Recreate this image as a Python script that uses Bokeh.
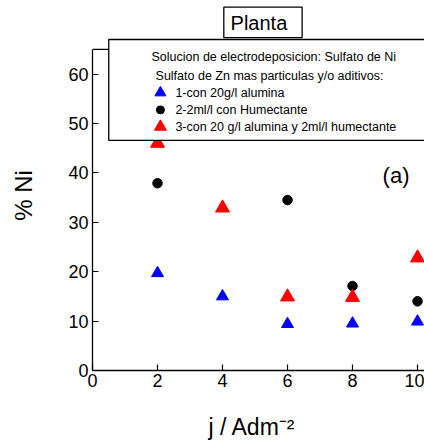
from bokeh.plotting import figure
from bokeh.models import Range1d, FixedTicker, Span
from bokeh.core.properties import value
from bokeh.embed import file_html
from bokeh.resources import INLINE

# ---- data ----
current_density = [2, 4, 6, 8, 10]
ni_alumina = [19.7, 15.0, 9.4, 9.5, 9.9]            # 1-con 20g/l alumina
wetting_density = [2, 6, 8, 10]
ni_wetting = [37.9, 34.5, 17.1, 14.0]               # 2-2ml/l con Humectante
ni_alumina_wetting = [46.0, 32.9, 14.9, 14.8, 22.8]  # 3-con 20 g/l alumina y 2ml/l humectante

x_ticks = [0, 2, 4, 6, 8, 10]
y_ticks = [0, 10, 20, 30, 40, 50, 60]

legend_header = ["Solucion de electrodeposicion: Sulfato de Ni",
                 "Sulfato de Zn mas particulas y/o aditivos:"]
legend_labels = ["1-con 20g/l alumina",
                 "2-2ml/l con Humectante",
                 "3-con 20 g/l alumina y 2ml/l humectante"]
title_text = "Planta"
panel_tag = "(a)"
x_label = "j / Adm\u207b\u00b2"
y_label = "% Ni"

FONT = "Liberation Sans"

p = figure(width=424, height=442, output_backend="svg", toolbar_location=None,
           x_range=Range1d(0, 10.215), y_range=Range1d(0, 74.89),
           min_border_left=92, min_border_right=0, min_border_top=0, min_border_bottom=70,
           outline_line_color=None, background_fill_color="white", border_fill_color="white")
p.grid.visible = False

for ax in (p.xaxis[0], p.yaxis[0]):
    ax.axis_line_color = "black"
    ax.axis_line_width = 1.3
    ax.major_tick_line_color = "black"
    ax.major_tick_line_width = 1.2
    ax.major_tick_in = 6
    ax.major_tick_out = 0
    ax.minor_tick_line_color = None
    ax.major_label_text_font = FONT
    ax.major_label_text_font_size = "18px"
    ax.major_label_text_color = "black"
    ax.axis_label_text_font = FONT
    ax.axis_label_text_font_style = "normal"
    ax.axis_label_text_color = "black"
p.xaxis.ticker = FixedTicker(ticks=x_ticks)
p.yaxis.ticker = FixedTicker(ticks=y_ticks)
p.yaxis.bounds = (0, 65)
p.xaxis.major_label_standoff = 3
p.yaxis.major_label_standoff = 4
p.xaxis.axis_label = x_label + "\u00a0\u00a0"
p.xaxis.axis_label_text_font_size = "23px"
p.xaxis.axis_label_standoff = 24
p.yaxis.axis_label = y_label + "\u00a0\u00a0\u00a0"
p.yaxis.axis_label_text_font_size = "24px"
p.yaxis.axis_label_standoff = 28

# data
p.scatter(current_density, ni_alumina, marker="triangle", size=12, color="#0000ff")
p.scatter(wetting_density, ni_wetting, marker="circle", size=9.5, color="black")
p.scatter(current_density, ni_alumina_wetting, marker="triangle", size=14, color="#ff0000")

# top frame border
p.add_layout(Span(location=65, dimension="width", line_color="black", line_width=1.3))

# legend box
p.quad(left=0.5, right=10.6, top=67.0, bottom=46.57, fill_color="white",
       line_color="black", line_width=1.3, level="overlay")
p.text(x=[1.815, 1.94], y=[63.36, 59.6], text=legend_header, text_font=value(FONT),
       text_font_size="12.5px", text_baseline="middle", text_color="black", level="overlay")
key_x = [2.09, 2.09, 2.09]
key_y = [56.23, 52.75, 49.33]
p.scatter(key_x[0:1], key_y[0:1], marker="triangle", size=11, color="#0000ff", level="overlay")
p.scatter(key_x[1:2], key_y[1:2], marker="circle", size=8, color="black", level="overlay")
p.scatter(key_x[2:3], key_y[2:3], marker="triangle", size=12, color="#ff0000", level="overlay")
p.text(x=[2.55] * 3, y=key_y, text=legend_labels, text_font=value(FONT),
       text_font_size="12.5px", text_baseline="middle", text_color="black", level="overlay")

# title box
p.quad(left=4.04, right=6.45, top=73.54, bottom=67.39, fill_color="white",
       line_color="black", line_width=1.3, level="overlay")
p.text(x=[5.12], y=[70.3], text=[title_text], text_font=value(FONT), text_font_size="20px",
       text_align="center", text_baseline="middle", text_color="black", level="overlay")

# panel tag
p.text(x=[9.34], y=[39.4], text=[panel_tag], text_font=value(FONT), text_font_size="22px",
       text_align="center", text_baseline="middle", text_color="black")

open("out.html", "w").write(file_html(p, INLINE))
